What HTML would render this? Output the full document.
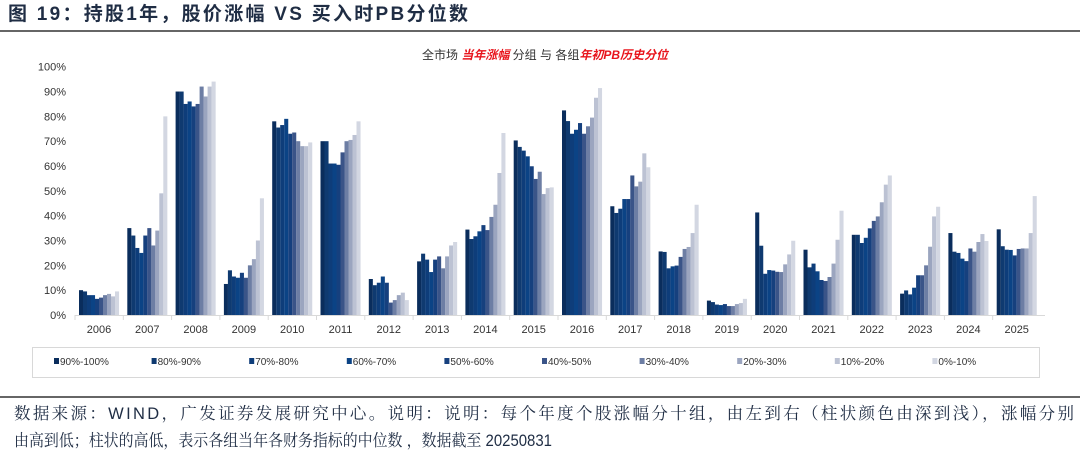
<!DOCTYPE html>
<html><head><meta charset="utf-8"><style>
body{margin:0;background:#fff;width:1080px;height:459px;overflow:hidden;font-family:"Liberation Sans","Noto Sans CJK SC",sans-serif}
.ser{font-family:"Liberation Sans","Noto Serif CJK SC",serif}
.san{font-family:"Liberation Sans","Noto Sans CJK SC",sans-serif}
</style></head><body>
<svg width="1080" height="459" xmlns="http://www.w3.org/2000/svg" style="position:absolute;left:0;top:0">
<text class="san" x="8" y="20" font-size="19" font-weight="bold" fill="#1f2d44" textLength="460" lengthAdjust="spacing">图 19：持股1年，股价涨幅 VS 买入时PB分位数</text>
<line x1="0" y1="31" x2="1080" y2="31" stroke="#333" stroke-width="1.5"/>
<text class="san" x="545" y="59" font-size="12" text-anchor="middle" fill="#333">全市场 <tspan fill="#e8141c" font-weight="bold" font-style="italic">当年涨幅</tspan> 分组 与 各组<tspan fill="#e8141c" font-weight="bold" font-style="italic">年初PB历史分位</tspan></text>
<g id="ax" font-size="11" fill="#333" text-anchor="end"></g>
<g id="bars"></g>
<g id="xl" font-size="11" fill="#333" text-anchor="middle"></g>
<rect x="32.5" y="347.5" width="1007" height="30" fill="none" stroke="#d8d8d8"/>
<g id="lg" font-size="10" fill="#333"></g>
<line x1="0" y1="397" x2="1080" y2="397" stroke="#333" stroke-width="1.5"/>
<text class="ser" x="14" y="419" font-size="16.5" fill="#1f2d44" textLength="1060" lengthAdjust="spacing">数据来源：WIND，广发证券发展研究中心。说明：说明：每个年度个股涨幅分十组，由左到右（柱状颜色由深到浅），涨幅分别</text>
<text class="ser" x="14" y="446" font-size="16.5" fill="#1f2d44" textLength="538" lengthAdjust="spacingAndGlyphs">由高到低；柱状的高低，表示各组当年各财务指标的中位数 ，数据截至 20250831</text>
</svg>
<script>
const ns="http://www.w3.org/2000/svg";
function el(p,t,a,txt){const e=document.createElementNS(ns,t);for(const k in a)e.setAttribute(k,a[k]);if(txt!==undefined)e.textContent=txt;document.getElementById(p).appendChild(e);return e;}
const base=315,sc=2.483;
for(let i=0;i<=10;i++){el("ax","text",{x:66,y:base-i*10*sc+4},i*10+"%");}
el("ax","line",{x1:75,y1:base+0.5,x2:1045,y2:base+0.5,stroke:"#d9d9d9"});
const cols=["#0a2d5c","#0f3a70","#0e3d7a","#0b4385","#16407e","#3a5488","#6d7ea4","#9ba5bf","#bcc2d3","#d3d7e2"];
const D=[
[10,9.5,8,8,6.5,7,8,8.5,7.5,9.5],
[35,32,27,25,32,35,28,34,49,80],
[90,90,85,86,84,85,92,88,92,94],
[12.5,18,15.5,15,17,15,20,22.5,30,47],
[78,75.5,76.5,79,73,73.5,70,68,68,69.5],
[70,70,61,61,60.5,65.5,70,70.5,72.5,78],
[14.5,12,13,15.5,13,5,6,8,9,6],
[21.6,24.7,22.3,17.3,22.3,23.6,18.8,23.6,28,29.4],
[34.4,30.6,31.7,33.7,36.2,34.2,39.5,44.4,57.2,73.3],
[70.3,67.7,66.2,63.9,59.9,54.8,57.7,48.7,51.1,51.4],
[82.4,78.1,73,74.6,77.3,73,76,79.5,87.5,91.4],
[43.8,41.1,42.8,46.7,46.7,56.2,51.8,53.7,65.1,59.5],
[25.6,25.4,18.8,19.6,19.9,23.4,26.6,27.4,33,44.4],
[5.8,5.2,4.2,4,4.4,3.6,3.6,4.4,4.8,6.5],
[41.3,27.9,16.6,18.1,17.9,17.4,17.3,20.4,24.4,29.9],
[26.3,19.2,20.7,17.6,14.1,13.7,15.3,20.7,30.3,42],
[32.3,32.3,29,31.1,34.9,37.9,39.7,45.4,52.5,56.2],
[8.6,9.9,8.3,11,16,16,20,27.5,39.7,43.6],
[33,25.5,25,22.7,21.7,26.8,25.5,29.4,32.6,29.8],
[34.5,27.7,26.3,26.2,24,26.6,26.8,26.8,33,47.9]];
D.forEach((g,gi)=>{const x0=79+gi*48.3;
 g.forEach((v,i)=>{const h=v*sc;el("bars","rect",{x:x0+i*4,y:base-h,width:4.05,height:h,fill:cols[i]});});
 el("xl","text",{x:x0+20,y:333},2006+gi);
 el("ax","line",{x1:x0-4,y1:base,x2:x0-4,y2:base+5,stroke:"#d9d9d9"});
});
const L=["90%-100%","80%-90%","70%-80%","60%-70%","50%-60%","40%-50%","30%-40%","20%-30%","10%-20%","0%-10%"];
L.forEach((t,i)=>{const x=54+i*97.6;el("lg","rect",{x:x,y:358,width:5,height:6,fill:cols[i]});el("lg","text",{x:x+6,y:365},t);});
</script>
</body></html>
